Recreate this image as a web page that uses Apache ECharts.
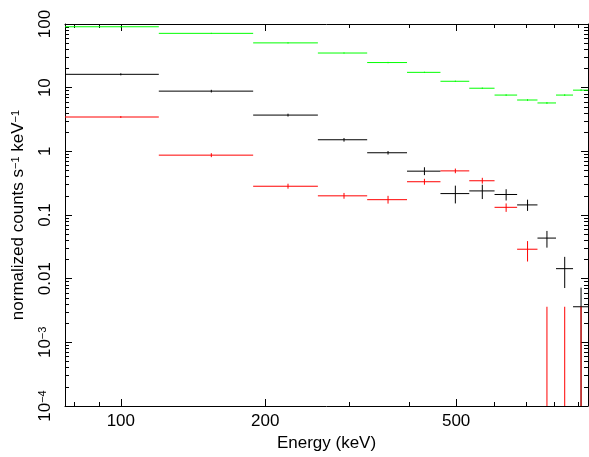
<!DOCTYPE html>
<html>
<head>
<meta charset="utf-8">
<script src="https://cdn.jsdelivr.net/npm/echarts@6/dist/echarts.min.js"></script>
<style>
html,body{margin:0;padding:0;background:#fff;}
#chart{width:589px;height:457px;}
</style>
</head>
<body>
<div id="chart"></div>
<script>
// ---- data ----
const binLo = [51.25, 120, 188.75, 257.5, 326.25, 395, 463.75, 532.5, 601.25, 670, 738.75, 807.5, 876.25];
const binHi = [120, 188.75, 257.5, 326.25, 395, 463.75, 532.5, 601.25, 670, 738.75, 807.5, 876.25, 945];
const binCenter = [100, 154.4, 223.1, 291.9, 360.6, 429.4, 498.1, 566.9, 635.6, 704.4, 773.1, 841.9, 910.6];

const greenVal = [90.5, 71.3, 50.5, 35.0, 24.8, 17.4, 12.6, 9.8, 7.65, 6.4, 5.75, 7.65, 9.14];
const greenLo  = [88.6, 69.9, 49.3, 34.2, 24.2, 17.0, 12.3, 9.55, 7.42, 6.2, 5.55, 7.42, 8.85];
const greenHi  = [92.4, 72.7, 51.7, 35.8, 25.4, 17.8, 12.9, 10.05, 7.88, 6.6, 5.95, 7.88, 9.43];

const blackVal = [16.2, 8.82, 3.71, 1.52, 0.95, 0.488, 0.217, 0.239, 0.210, 0.144, 0.0434, 0.01436, 0.00362];
const blackLo  = [15.6, 8.4, 3.52, 1.42, 0.89, 0.423, 0.152, 0.178, 0.169, 0.116, 0.0307, 0.00713, 0];
const blackHi  = [16.8, 9.25, 3.9, 1.62, 1.01, 0.562, 0.289, 0.299, 0.254, 0.174, 0.0562, 0.0220, 0.00723];

const redVal = [3.46, 0.871, 0.283, 0.200, 0.174, 0.333, 0.493, 0.345, 0.132, 0.0290, null, null, null];
const redLo  = [3.34, 0.81, 0.259, 0.180, 0.151, 0.299, 0.453, 0.311, 0.112, 0.0186, 0, 0, 0];
const redHi  = [3.58, 0.935, 0.31, 0.222, 0.2, 0.370, 0.536, 0.384, 0.152, 0.0389, 0.00362, 0.00362, 0.00362];

const xMajorTicks = [100, 200, 500];
const xMinorTicks = [80, 90, 300, 400, 600, 700, 800, 900];
const yMajorTicks = [1e-4, 1e-3, 0.01, 0.1, 1, 10, 100];
const yTickLabels = ['10{sup|\u22124}', '10{sup|\u22123}', '0.01', '0.1', '1', '10', '100'];
const yMinorTicks = [];
[1e-4, 1e-3, 0.01, 0.1, 1, 10].forEach(d => { for (let k = 2; k <= 9; k++) yMinorTicks.push(+(d * k).toPrecision(3)); });

const X_MIN = 76.5, X_MAX = 941.5, Y_MIN = 1e-4, Y_MAX = 100;
const FONT = '"Liberation Sans", Arial, Helvetica, sans-serif';

// ---- chart ----
const chart = echarts.init(document.getElementById('chart'), null, {renderer: 'canvas'});

function buildData(v, lo, hi) {
  return binCenter.map((c, i) => [c, v[i], binLo[i], binHi[i], lo[i], hi[i]]);
}
function makeRender(color) {
  return function (params, api) {
    const c = api.value(0), v = api.value(1), bl = api.value(2), bh = api.value(3), lo = api.value(4), hi = api.value(5);
    const cs = params.coordSys;
    const bottom = cs.y + cs.height;
    const children = [];
    if (v != null && !isNaN(v) && v > 0) {
      const p1 = api.coord([bl, v]), p2 = api.coord([bh, v]);
      children.push({type: 'line', shape: {x1: p1[0], y1: p1[1], x2: p2[0], y2: p2[1]}, style: {stroke: color, lineWidth: 1}});
    }
    const pt = api.coord([c, hi]);
    const yb = lo > 0 ? api.coord([c, lo])[1] : bottom;
    children.push({type: 'line', shape: {x1: pt[0], y1: pt[1], x2: pt[0], y2: yb}, style: {stroke: color, lineWidth: 1}});
    return {type: 'group', children: children};
  };
}
function errSeries(name, color, v, lo, hi) {
  return {
    name: name, type: 'custom', clip: true, xAxisIndex: 0, yAxisIndex: 0,
    dimensions: ['c', 'v', 'bl', 'bh', 'lo', 'hi'],
    encode: {x: 0, y: 5},
    renderItem: makeRender(color),
    data: buildData(v, lo, hi),
    silent: true, animation: false
  };
}

const axisLineStyle = {show: true, lineStyle: {color: '#000', width: 1}};
function xAx(pos, ticks, len, labels, withLine, extra) {
  return Object.assign({
    type: 'log', logBase: 10, min: X_MIN, max: X_MAX, position: pos,
    axisLine: withLine ? axisLineStyle : {show: false},
    axisTick: {show: true, inside: true, length: len, customValues: ticks, lineStyle: {color: '#000', width: 1}},
    axisLabel: labels ? {show: true, customValues: ticks, color: '#000', fontSize: 17, fontFamily: FONT, margin: 7,
      formatter: v => String(Math.round(v))} : {show: false},
    splitLine: {show: false}, minorTick: {show: false}
  }, extra || {});
}
function yAx(pos, ticks, len, labels, withLine, extra) {
  return Object.assign({
    type: 'log', logBase: 10, min: Y_MIN, max: Y_MAX, position: pos,
    axisLine: withLine ? axisLineStyle : {show: false},
    axisTick: {show: true, inside: true, length: len, customValues: ticks, lineStyle: {color: '#000', width: 1}},
    axisLabel: labels ? {show: true, customValues: ticks, color: '#000', fontSize: 17, fontFamily: FONT, margin: 11, rotate: 90,
      formatter: v => { const e = Math.round(Math.log10(v)); const i = yMajorTicks.findIndex(t => Math.round(Math.log10(t)) === e); return i >= 0 ? yTickLabels[i] : ''; },
      rich: {sup: {fontSize: 11, fontFamily: FONT, color: '#000', verticalAlign: 'top', padding: [0, 0, 6, 0]}}} : {show: false},
    splitLine: {show: false}, minorTick: {show: false}
  }, extra || {});
}

const option = {
  animation: false,
  backgroundColor: '#fff',
  grid: {left: 65, right: 1, top: 24, bottom: 44, containLabel: false},
  xAxis: [
    xAx('bottom', xMajorTicks, 7, true, true, {
      name: 'Energy (keV)', nameLocation: 'middle', nameGap: 29,
      nameTextStyle: {color: '#000', fontSize: 17, fontFamily: FONT}
    }),
    xAx('bottom', xMinorTicks, 4, false, false),
    xAx('top', xMajorTicks, 7, false, true),
    xAx('top', xMinorTicks, 4, false, false)
  ],
  yAxis: [
    yAx('left', yMajorTicks, 7, true, true, {
      name: 'normalized counts s{sup|\u22121} keV{sup|\u22121}', nameLocation: 'middle', nameGap: 38, nameRotate: 90,
      nameTextStyle: {color: '#000', fontSize: 17, fontFamily: FONT,
        rich: {sup: {fontSize: 11, fontFamily: FONT, color: '#000', verticalAlign: 'top', padding: [0, 0, 6, 0]}}}
    }),
    yAx('left', yMinorTicks, 4, false, false),
    yAx('right', yMajorTicks, 7, false, true),
    yAx('right', yMinorTicks, 4, false, false)
  ],
  series: [
    errSeries('green', '#00ff00', greenVal, greenLo, greenHi),
    errSeries('black', '#000000', blackVal, blackLo, blackHi),
    errSeries('red', '#ff0000', redVal, redLo, redHi)
  ]
};
chart.setOption(option);
</script>
</body>
</html>
